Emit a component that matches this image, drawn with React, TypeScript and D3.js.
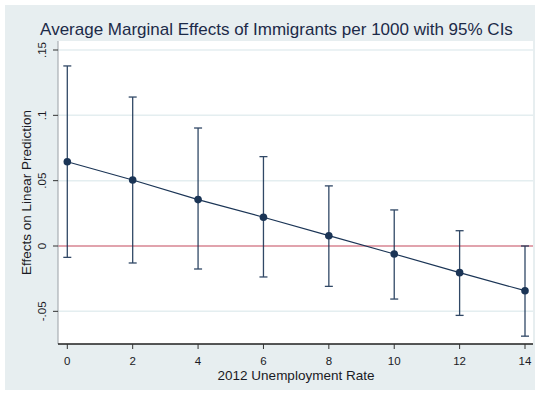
import React from "react";
import * as d3 from "d3";

// Average marginal effects by unemployment rate, with 95% confidence bounds
const unemploymentRates = [0, 2, 4, 6, 8, 10, 12, 14];
const marginalEffects = [0.0645, 0.0505, 0.0355, 0.022, 0.0079, -0.0061, -0.0204, -0.0342];
const ciUpper = [0.1378, 0.114, 0.0903, 0.0684, 0.046, 0.0276, 0.0117, 0.0];
const ciLower = [-0.0087, -0.013, -0.0176, -0.0237, -0.0309, -0.0406, -0.0531, -0.069];
const xTicks = [0, 2, 4, 6, 8, 10, 12, 14];
const yTicks = [-0.05, 0, 0.05, 0.1, 0.15];
const yTickLabels = ["-.05", "0", ".05", ".1", ".15"];

const W = 539;
const H = 395;
const plot = { left: 58, right: 533, top: 41, bottom: 344 };

const FONT = "'Liberation Sans', Arial, Helvetica, sans-serif";
const NAVY = "#1b3556";
const BG = "#e7eef0";
const GRID = "#e4eef0";
const TEXT = "#1a1a24";

export default function App() {
  const x = d3.scaleLinear().domain([0, 14]).range([67.3, 525]);
  const y = d3.scaleLinear().domain([0, 0.15]).range([246, 50]);

  const line = d3
    .line<number>()
    .x((_, i) => x(unemploymentRates[i]))
    .y((d) => y(d));

  const cap = 4;

  return (
    <svg
      width={W}
      height={H}
      style={{ position: "absolute", left: 0, top: 0, background: "#fff" }}
      fontFamily={FONT}
    >
      <rect x={5} y={5} width={530} height={385} fill={BG} />
      <rect
        x={plot.left}
        y={plot.top}
        width={plot.right - plot.left}
        height={plot.bottom - plot.top}
        fill="#fff"
      />

      {/* horizontal grid lines */}
      {yTicks.map((t) => (
        <line
          key={"g" + t}
          x1={plot.left}
          x2={plot.right}
          y1={y(t)}
          y2={y(t)}
          stroke={GRID}
          strokeWidth={1.5}
        />
      ))}

      {/* reference line at zero */}
      <line
        x1={plot.left}
        x2={plot.right}
        y1={y(0)}
        y2={y(0)}
        stroke="#d85466"
        strokeWidth={1.2}
      />

      {/* confidence intervals */}
      {unemploymentRates.map((r, i) => (
        <g key={"ci" + r} stroke={NAVY} strokeWidth={1.3} opacity={0.9}>
          <line x1={x(r)} x2={x(r)} y1={y(ciUpper[i])} y2={y(ciLower[i])} />
          <line x1={x(r) - cap} x2={x(r) + cap} y1={y(ciUpper[i])} y2={y(ciUpper[i])} />
          <line x1={x(r) - cap} x2={x(r) + cap} y1={y(ciLower[i])} y2={y(ciLower[i])} />
        </g>
      ))}

      {/* connecting line and point estimates */}
      <path d={line(marginalEffects) ?? ""} fill="none" stroke={NAVY} strokeWidth={1.2} />
      {unemploymentRates.map((r, i) => (
        <circle key={"p" + r} cx={x(r)} cy={y(marginalEffects[i])} r={3.8} fill={NAVY} />
      ))}

      {/* axes */}
      <line x1={plot.left} x2={plot.left} y1={plot.top} y2={plot.bottom} stroke="#9aa0a6" strokeWidth={1} />
      <line x1={plot.left} x2={plot.right} y1={plot.bottom} y2={plot.bottom} stroke="#1f1f1f" strokeWidth={1.3} />

      {yTicks.map((t, i) => (
        <g key={"yt" + t}>
          <line x1={plot.left - 5} x2={plot.left} y1={y(t)} y2={y(t)} stroke="#333" strokeWidth={1} />
          <text
            transform={`translate(46, ${y(t)}) rotate(-90)`}
            textAnchor="middle"
            fontSize={11.5}
            fill={TEXT}
          >
            {yTickLabels[i]}
          </text>
        </g>
      ))}

      {xTicks.map((t) => (
        <g key={"xt" + t}>
          <line x1={x(t)} x2={x(t)} y1={plot.bottom} y2={plot.bottom + 5} stroke="#333" strokeWidth={1} />
          <text x={x(t)} y={365} textAnchor="middle" fontSize={11.5} fill={TEXT}>
            {t}
          </text>
        </g>
      ))}

      {/* titles */}
      <text x={296} y={380} textAnchor="middle" fontSize={13.5} fill={TEXT}>
        2012 Unemployment Rate
      </text>
      <text
        transform={`translate(31, 192.5) rotate(-90)`}
        textAnchor="middle"
        fontSize={13.5}
        fill={TEXT}
      >
        Effects on Linear Prediction
      </text>
      <text x={276.5} y={35} textAnchor="middle" fontSize={17} fill="#1c2a48">
        Average Marginal Effects of Immigrants per 1000 with 95% CIs
      </text>
    </svg>
  );
}
